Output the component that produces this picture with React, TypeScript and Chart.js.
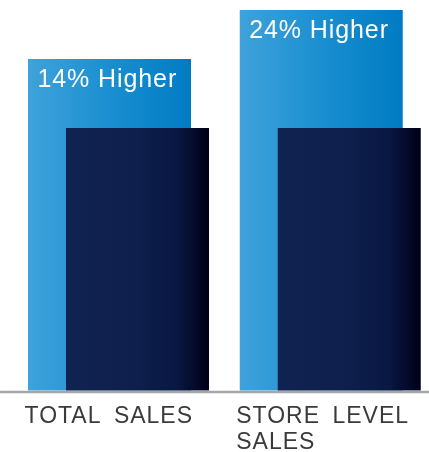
import React, { useEffect, useRef } from "react";
import { Chart, registerables } from "chart.js";

Chart.register(...registerables);

// ---- data ----
const categories: string[][] = [["TOTAL SALES"], ["STORE LEVEL", "SALES"]];
const higherValues = [126.3, 145];
const baseValues = [100, 100];
const higherLabels = ["14% Higher", "24% Higher"];
const yMin = 0;
const yMax = 145;

// ---- styles ----
const lightStops: [number, string][] = [
  [0, "#3fa2db"],
  [0.5, "#1a8fd0"],
  [1, "#007bc3"],
];
const darkStops: [number, string][] = [
  [0, "#10224f"],
  [0.5, "#0e1f4d"],
  [0.78, "#091742"],
  [1, "#000018"],
];
const FONT = '"Liberation Sans", Arial, Helvetica, sans-serif';

const gradientPlugin = {
  id: "barGradients",
  beforeDatasetsDraw(chart: any) {
    const ctx = chart.ctx;
    const allStops = [lightStops, darkStops];
    chart.data.datasets.forEach((_ds: any, di: number) => {
      const stops = allStops[di];
      if (!stops) return;
      const meta = chart.getDatasetMeta(di);
      meta.data.forEach((el: any) => {
        const { x, width } = el.getProps(["x", "width"], true);
        const g = ctx.createLinearGradient(x - width / 2, 0, x + width / 2, 0);
        stops.forEach(([o, c]) => g.addColorStop(o, c));
        el.options = Object.assign({}, el.options, { backgroundColor: g });
      });
    });
  },
};

const labelPlugin = {
  id: "labelsAndBaseline",
  afterDatasetsDraw(chart: any) {
    const ctx = chart.ctx;
    const yScale = chart.scales.y;
    const base = yScale.getPixelForValue(0);

    // baseline across full width
    ctx.save();
    ctx.strokeStyle = "#a6a6a6";
    ctx.lineWidth = 2.5;
    ctx.beginPath();
    ctx.moveTo(0, base + 1.5);
    ctx.lineTo(chart.width, base + 1.5);
    ctx.stroke();
    ctx.restore();

    const meta = chart.getDatasetMeta(0);
    meta.data.forEach((el: any, i: number) => {
      const { x, y, width } = el.getProps(["x", "y", "width"], true);
      const left = x - width / 2;

      // value label inside light bar
      ctx.save();
      ctx.font = `25px ${FONT}`;
      (ctx as any).letterSpacing = "0.9px";
      ctx.fillStyle = "#ffffff";
      ctx.textAlign = "left";
      ctx.textBaseline = "alphabetic";
      ctx.fillText(higherLabels[i], left + 9.5, y + 28);
      ctx.restore();

      // category labels below axis
      ctx.save();
      ctx.font = `23px ${FONT}`;
      (ctx as any).letterSpacing = "1px";
      (ctx as any).wordSpacing = "5px";
      ctx.fillStyle = "#3a3a3a";
      ctx.textAlign = "left";
      ctx.textBaseline = "alphabetic";
      categories[i].forEach((line, li) => {
        ctx.fillText(line, left - 3.5, base + 32 + li * 26);
      });
      ctx.restore();
    });
  },
};

export default function App() {
  const canvasRef = useRef<HTMLCanvasElement | null>(null);

  useEffect(() => {
    if (!canvasRef.current) return;
    const catPct = 56 / 211.75;
    const chart = new Chart(canvasRef.current, {
      type: "bar",
      data: {
        labels: categories.map((c) => c.join(" ")),
        datasets: [
          {
            label: "Higher",
            data: higherValues,
            backgroundColor: "#1a8fd0",
            barPercentage: 163 / 28,
            categoryPercentage: catPct,
            borderWidth: 0,
            clip: false as any,
            stack: "left",
            order: 2,
          },
          {
            label: "Base",
            data: baseValues,
            backgroundColor: "#0e1f4d",
            barPercentage: 143 / 28,
            categoryPercentage: catPct,
            borderWidth: 0,
            clip: false as any,
            stack: "right",
            order: 1,
          },
          {
            // empty helper so the light bars take the left slot but draw behind
            label: "",
            data: [],
            categoryPercentage: catPct,
            stack: "left",
            order: 0,
          },
        ],
      },
      options: {
        animation: false,
        responsive: true,
        maintainAspectRatio: false,
        events: [],
        layout: {
          padding: { left: 123.5, right: 93.75, top: 10, bottom: 61.5 },
        },
        plugins: {
          legend: { display: false },
          tooltip: { enabled: false },
        },
        scales: {
          x: { display: false, offset: false },
          y: { display: false, min: yMin, max: yMax, stacked: false },
        },
      },
      plugins: [gradientPlugin, labelPlugin],
    });
    return () => chart.destroy();
  }, []);

  return (
    <div
      style={{
        position: "fixed",
        left: 0,
        top: 0,
        width: 429,
        height: 452,
        background: "#ffffff",
      }}
    >
      <canvas ref={canvasRef} />
    </div>
  );
}
